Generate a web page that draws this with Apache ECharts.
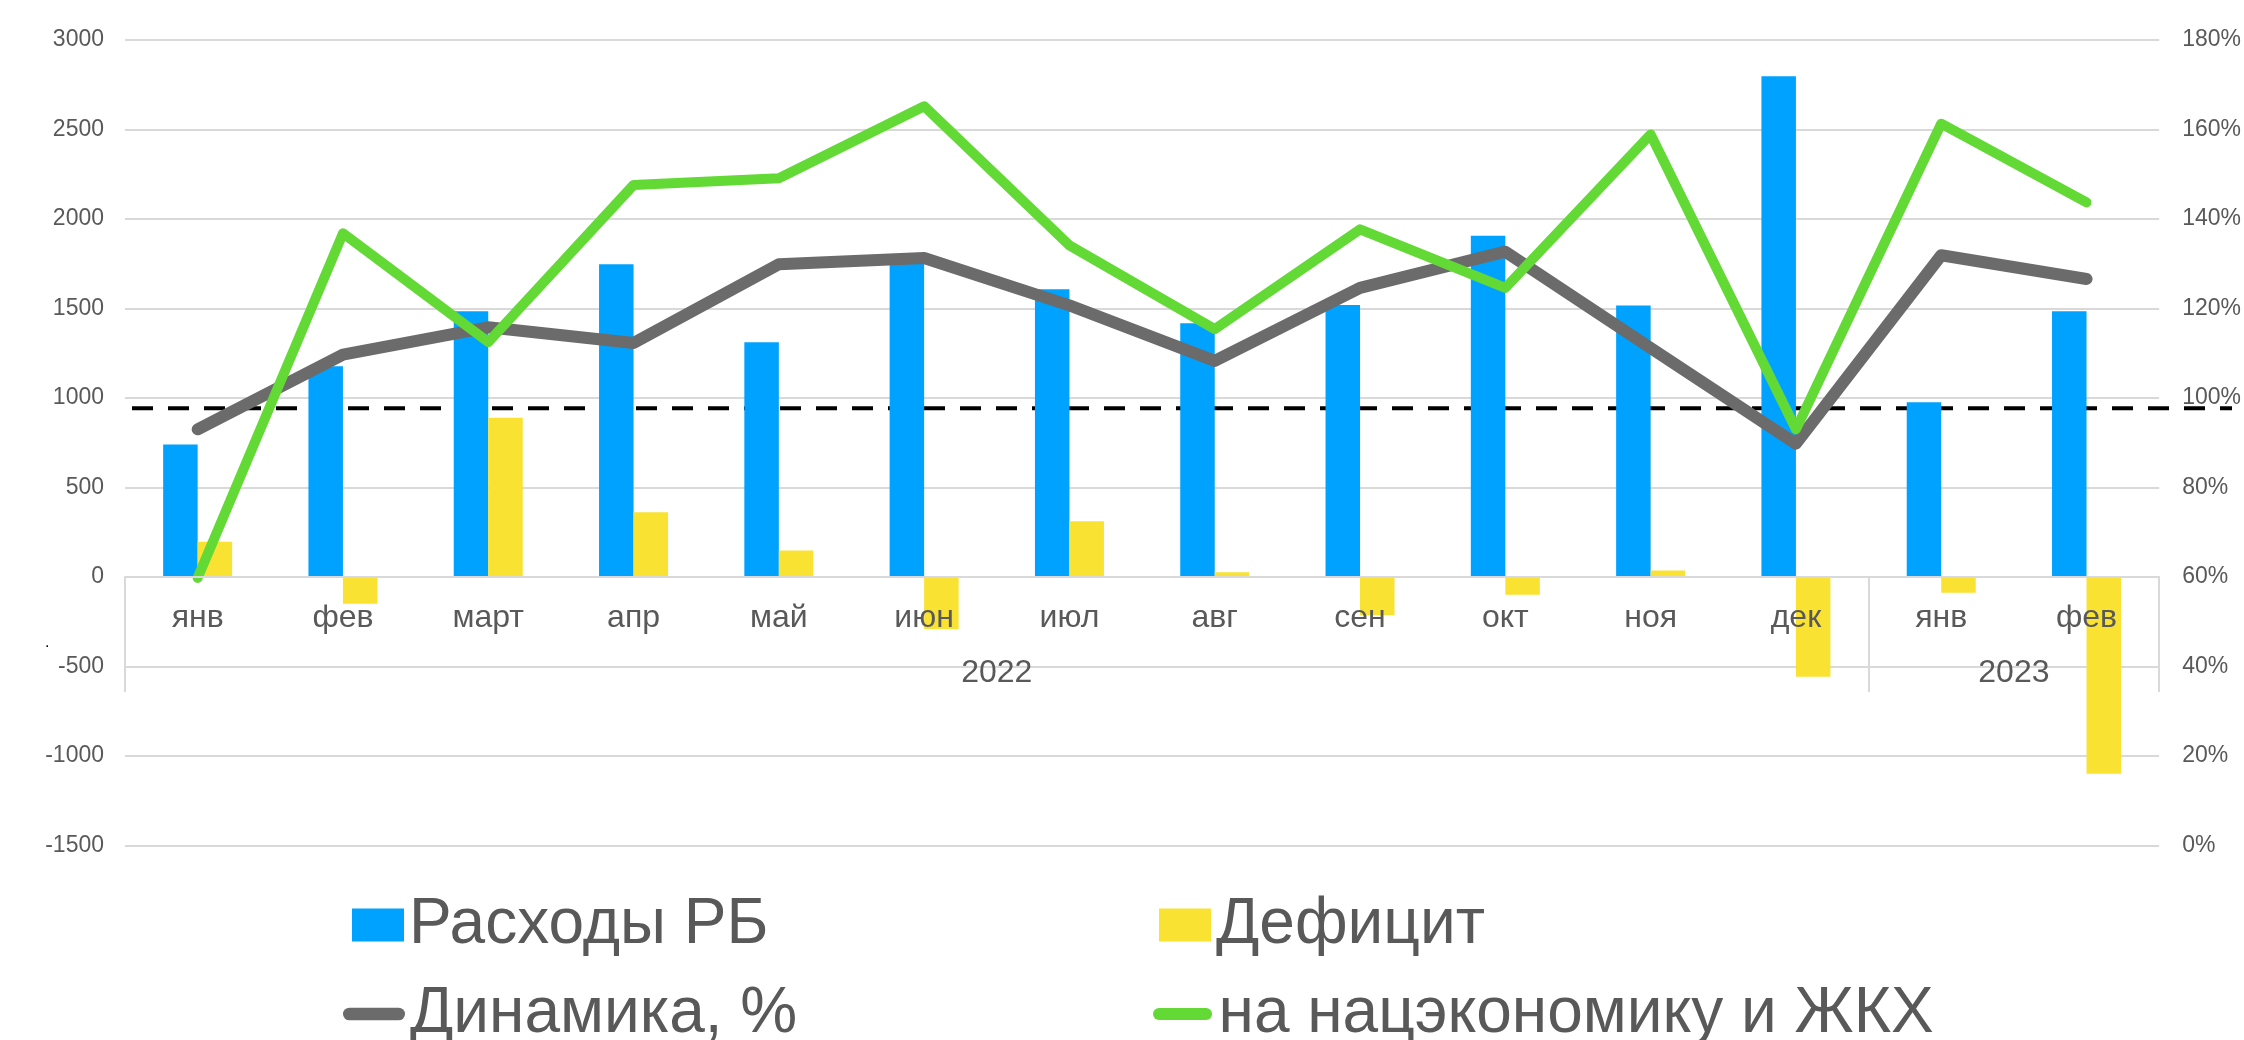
<!DOCTYPE html>
<html>
<head>
<meta charset="utf-8">
<script src="https://cdn.jsdelivr.net/npm/echarts@6/dist/echarts.min.js"></script>
<style>
html,body{margin:0;padding:0;background:#fff;}
#chart{width:2244px;height:1040px;}
</style>
</head>
<body>
<div id="chart"></div>
<script>
// ---- data ----
const months = ['янв','фев','март','апр','май','июн','июл','авг','сен','окт','ноя','дек','янв','фев'];
const years = ['2022','2023'];
const yearSpans = [12, 2];
const expenses = [740, 1177, 1484, 1747, 1312, 1750, 1608, 1418, 1520, 1906, 1517, 2797, 976, 1484];
const deficit = [197, -150, 890, 362, 148, -291, 311, 26, -213, -99, 37, -557, -88, -1099];
const dynamics = [93.0, 109.7, 115.8, 112.3, 129.9, 131.3, 120.7, 108.3, 124.6, 132.7, 111.2, 89.8, 131.9, 126.6];
const natsEcon = [59.8, 136.8, 112.5, 147.6, 149.1, 165.2, 134.1, 115.4, 137.7, 124.6, 158.9, 93.0, 161.3, 143.7];
const refLevel = 97.7; // dashed reference line, right-axis %
const leftTicks = {min: -1500, max: 3000, interval: 500};
const rightTicks = {min: 0, max: 180, interval: 20};

// year group boundaries and centres along the category axis
const yearBounds = [0];
const yearCenters = [];
yearSpans.forEach((s, i) => { yearCenters.push(yearBounds[i] + s / 2); yearBounds.push(yearBounds[i] + s); });

const FONT = '"Liberation Sans", Arial, sans-serif';
const TXT = '#595959';
const GRID = '#d9d9d9';
const C_BLUE = '#00A2FF', C_YEL = '#F9E232', C_GRAY = '#6B6B6B', C_GREEN = '#62D935';
const lineIcon = 'path://M6.5,0H57.5A6.5,6.5,0,0,1,57.5,13H6.5A6.5,6.5,0,0,1,6.5,0Z';

const chart = echarts.init(document.getElementById('chart'), null, {renderer: 'canvas'});
const H = 1040;
const gridTop = 40, gridBottom = 194.5;
const gridHeight = H - gridTop - gridBottom;
// place the category axis on the left-axis zero value
const zeroOffset = -gridHeight * (0 - leftTicks.min) / (leftTicks.max - leftTicks.min);
const legendBase = {selectedMode: false, itemGap: 0, textStyle: {fontFamily: FONT, fontSize: 64, color: TXT, lineHeight: 64}};

chart.setOption({
  animation: false,
  backgroundColor: '#fff',
  textStyle: {fontFamily: FONT},
  grid: [
    {left: 125, right: 80, top: gridTop, bottom: gridBottom},
    {left: 132, right: 12, top: gridTop, bottom: gridBottom}
  ],
  legend: [
    Object.assign({}, legendBase, {data: [{name: 'Расходы РБ', icon: 'rect'}], left: 347, top: 888, itemWidth: 52, itemHeight: 33}),
    Object.assign({}, legendBase, {data: [{name: 'Дефицит', icon: 'rect'}], left: 1154, top: 888, itemWidth: 52, itemHeight: 33}),
    Object.assign({}, legendBase, {data: [{name: 'Динамика, %', icon: lineIcon}], left: 338, top: 977, itemWidth: 62, itemHeight: 13}),
    Object.assign({}, legendBase, {data: [{name: 'на нацэкономику и ЖКХ', icon: lineIcon}], left: 1148, top: 977, itemWidth: 62, itemHeight: 12})
  ],
  xAxis: [
    {
      type: 'category', gridIndex: 0, data: months, position: 'bottom', z: 5, offset: zeroOffset,
      boundaryGap: true,
      axisLine: {show: true, onZero: false, lineStyle: {color: GRID, width: 2}},
      axisTick: {show: false},
      axisLabel: {fontSize: 32, color: TXT, margin: 25, fontFamily: FONT, interval: 0}
    },
    {
      type: 'value', gridIndex: 0, min: 0, max: months.length, position: 'bottom', z: 5, offset: zeroOffset,
      axisLine: {show: false, onZero: false},
      splitLine: {show: false},
      axisTick: {show: true, customValues: yearBounds, length: 115, lineStyle: {color: GRID, width: 2}},
      axisLabel: {show: true, customValues: yearCenters, fontSize: 32, color: TXT, margin: 80, fontFamily: FONT,
        formatter: v => years[yearCenters.indexOf(v)] || ''}
    },
    {type: 'value', gridIndex: 1, min: 0, max: 1, show: false}
  ],
  yAxis: [
    {
      type: 'value', gridIndex: 0, position: 'left', min: leftTicks.min, max: leftTicks.max, interval: leftTicks.interval,
      axisLine: {show: false, onZero: false}, axisTick: {show: false},
      splitLine: {show: true, lineStyle: {color: GRID, width: 2}},
      axisLabel: {fontSize: 23, color: TXT, margin: 21, fontFamily: FONT, formatter: v => String(v)}
    },
    {
      type: 'value', gridIndex: 0, position: 'right', min: rightTicks.min, max: rightTicks.max, interval: rightTicks.interval,
      axisLine: {show: false, onZero: false}, axisTick: {show: false},
      splitLine: {show: false},
      axisLabel: {fontSize: 23, color: TXT, margin: 23, fontFamily: FONT, formatter: v => v + '%'}
    },
    {type: 'value', gridIndex: 1, min: rightTicks.min, max: rightTicks.max, show: false,
      axisLine: {onZero: false}}
  ],
  graphic: [
    {type: 'text', left: 45, top: 635, z: 10, style: {text: '.', fontSize: 16, fill: '#000', fontFamily: FONT}}
  ],
  series: [
    {
      name: 'ref', type: 'line', xAxisIndex: 2, yAxisIndex: 2, z: 1, silent: true, symbol: 'none',
      data: [[0, refLevel], [1, refLevel]],
      lineStyle: {color: '#000', width: 4, type: [21, 15]}
    },
    {
      name: 'Расходы РБ', type: 'bar', xAxisIndex: 0, yAxisIndex: 0, data: expenses, z: 2,
      barWidth: 34.5, barGap: '0%', itemStyle: {color: C_BLUE}
    },
    {
      name: 'Дефицит', type: 'bar', xAxisIndex: 0, yAxisIndex: 0, data: deficit, z: 2,
      barWidth: 34.5, barGap: '0%', itemStyle: {color: C_YEL}
    },
    {
      name: 'Динамика, %', type: 'line', xAxisIndex: 0, yAxisIndex: 1, data: dynamics, z: 3,
      symbol: 'none', itemStyle: {color: C_GRAY},
      lineStyle: {color: C_GRAY, width: 12, cap: 'round', join: 'round'}
    },
    {
      name: 'на нацэкономику и ЖКХ', type: 'line', xAxisIndex: 0, yAxisIndex: 1, data: natsEcon, z: 4,
      symbol: 'none', itemStyle: {color: C_GREEN},
      lineStyle: {color: C_GREEN, width: 10, cap: 'round', join: 'round'}
    }
  ]
});
</script>
</body>
</html>
